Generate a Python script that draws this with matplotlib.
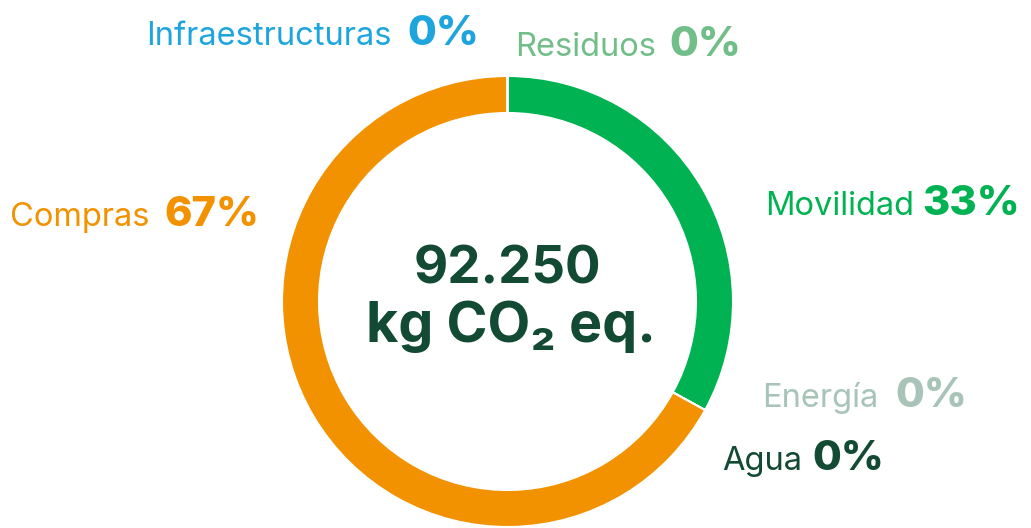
import matplotlib
matplotlib.use("Agg")
import matplotlib.pyplot as plt

# ---- data ----
categories = ["Movilidad", "Energía", "Agua", "Compras", "Infraestructuras", "Residuos"]
values = [33, 0, 0, 67, 0, 0]
pct_labels = ["33%", "0%", "0%", "67%", "0%", "0%"]
colors = ["#00B251", "#A8C4B8", "#124A33", "#F39200", "#1EA5DE", "#72BE88"]
center_value = "92.250"
center_unit = "kg CO\u2082 eq."

# ---- layout (pixel coords, y up) ----
W, H = 1031, 528
label_pos = {  # left x of label, right x of pct, baseline y (image coords, y down)
    "Movilidad": (765, 1020, 215),
    "Energía": (762, 967, 407),
    "Agua": (722, 884, 470),
    "Compras": (10, 259, 226),
    "Infraestructuras": (146, 479, 45),
    "Residuos": (515, 741, 56),
}

fig = plt.figure(figsize=(W / 100, H / 100), dpi=100)
ax = fig.add_axes([0, 0, 1, 1])
cx, cy, R = 507.5, H - 301.5, 225.5
ax.pie(values, colors=colors, startangle=90, counterclock=False,
       center=(cx, cy), radius=R,
       wedgeprops=dict(width=37, edgecolor="white", linewidth=1.5))
ax.set_xlim(0, W)
ax.set_ylim(0, H)
ax.set_aspect("equal")
ax.axis("off")

fam = ["Inter", "DejaVu Sans"]
for cat, pct, col in zip(categories, pct_labels, colors):
    lx, px, by = label_pos[cat]
    ax.text(lx, H - by, cat, color=col, fontsize=23.5, family=fam,
            ha="left", va="baseline")
    ax.text(px, H - by, pct, color=col, fontsize=30, family=fam,
            fontweight="extra bold", ha="right", va="baseline")

dark = "#124A33"
ax.text(cx, H - 283, center_value, color=dark, fontsize=38, family=fam,
        fontweight="bold", ha="center", va="baseline")
ax.text(cx + 3, H - 342, center_unit, color=dark, fontsize=40, family=fam,
        fontweight="bold", ha="center", va="baseline")

fig.savefig("out.png", dpi=100)
